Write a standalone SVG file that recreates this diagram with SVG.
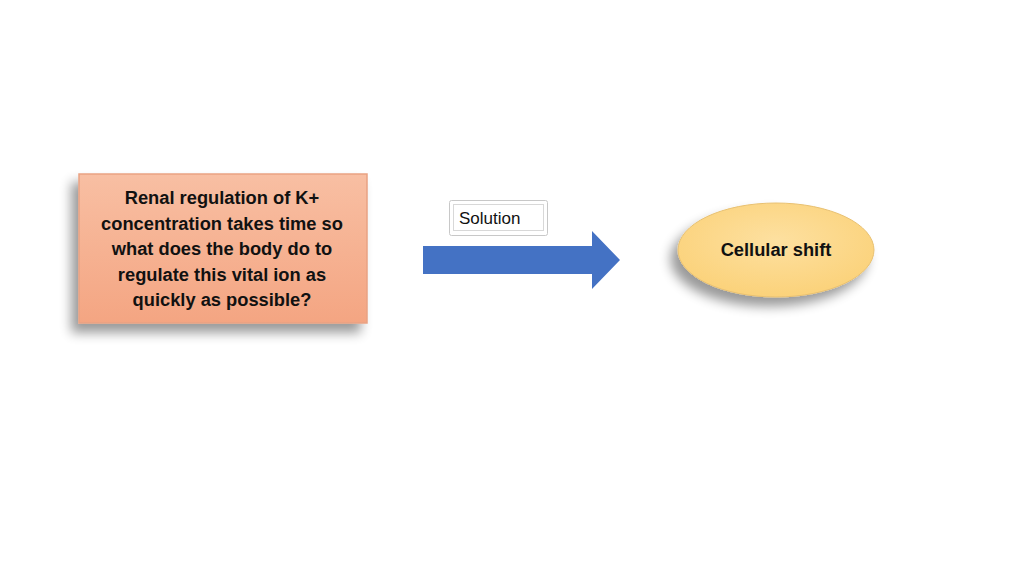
<svg xmlns="http://www.w3.org/2000/svg" width="1024" height="576" viewBox="0 0 1024 576">
<defs>
<filter id="sh" x="-20%" y="-20%" width="150%" height="160%">
<feGaussianBlur in="SourceAlpha" stdDeviation="6"/>
<feOffset dx="-7" dy="9" result="b"/>
<feComponentTransfer><feFuncA type="linear" slope="0.4"/></feComponentTransfer>
<feMerge><feMergeNode/><feMergeNode in="SourceGraphic"/></feMerge>
</filter>
<linearGradient id="gBox" x1="0" y1="0" x2="0" y2="1">
<stop offset="0" stop-color="#f8bfa3"/>
<stop offset="1" stop-color="#f4a582"/>
</linearGradient>
<radialGradient id="gEl" cx="0.5" cy="0.4" r="0.6">
<stop offset="0" stop-color="#fde0a0"/>
<stop offset="1" stop-color="#fbd27a"/>
</radialGradient>
</defs>
<style>
.t{font-family:"Liberation Sans",Arial,sans-serif;font-weight:bold;font-size:18.3px;fill:#111;text-anchor:middle}
.s{font-family:"Liberation Sans",Arial,sans-serif;font-size:17px;fill:#111}
</style>
<rect width="1024" height="576" fill="#fff"/>
<g id="question">
<rect x="79" y="174" width="288" height="149" fill="url(#gBox)" stroke="#e9a283" stroke-width="1.5" filter="url(#sh)"/>
<text class="t" x="222" y="204">Renal regulation of K+</text>
<text class="t" x="222" y="230">concentration takes time so</text>
<text class="t" x="222" y="255">what does the body do to</text>
<text class="t" x="222" y="281">regulate this vital ion as</text>
<text class="t" x="222" y="306">quickly as possible?</text>
</g>
<g id="connectors">
<polygon points="423,246 592,246 592,231 620,260 592,289 592,274 423,274" fill="#4472c4"/>
<g id="solution-label">
<rect x="449.5" y="200.5" width="98" height="35" rx="2" fill="#fff" stroke="#c8c8c8"/>
<rect x="453.5" y="204.5" width="90" height="26" fill="#fff" stroke="#d8d8d8"/>
<text class="s" x="459" y="224">Solution</text>
</g>
</g>
<g id="cellular-shift">
<ellipse cx="776" cy="250" rx="98" ry="47" fill="url(#gEl)" stroke="#e8c070" stroke-width="1" filter="url(#sh)"/>
<text class="t" x="776" y="256">Cellular shift</text>
</g>
</svg>
